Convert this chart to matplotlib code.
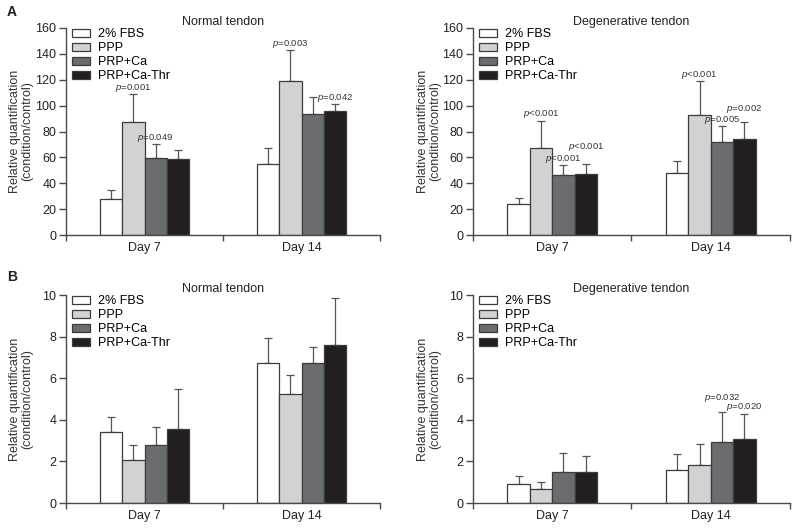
import matplotlib
matplotlib.use("Agg")
import matplotlib.pyplot as plt
import numpy as np

plt.rcParams['font.family'] = ['Liberation Sans', 'DejaVu Sans']
plt.rcParams['mathtext.fontset'] = 'custom'
plt.rcParams['mathtext.it'] = 'Liberation Sans:italic'
plt.rcParams['mathtext.rm'] = 'Liberation Sans'

days = ["Day 7", "Day 14"]
groups = ["2% FBS", "PPP", "PRP+Ca", "PRP+Ca-Thr"]
colors = ["#ffffff", "#d1d2d4", "#6b6c6f", "#231f20"]

# Panel A - Normal tendon (mean, upper error) per group [Day 7, Day 14]
a_normal_mean = [[27.6, 54.7], [87.7, 119.0], [59.4, 93.4], [58.8, 95.5]]
a_normal_err = [[7.2, 12.4], [21.2, 24.0], [10.8, 13.6], [6.7, 5.7]]
# Panel A - Degenerative tendon
a_degen_mean = [[24.0, 47.7], [67.6, 92.6], [46.5, 71.7], [47.0, 74.3]]
a_degen_err = [[4.4, 9.3], [20.9, 26.4], [7.4, 12.2], [7.5, 12.7]]
# Panel B - Normal tendon
b_normal_mean = [[3.42, 6.71], [2.09, 5.22], [2.81, 6.71], [3.55, 7.58]]
b_normal_err = [[0.72, 1.20], [0.72, 0.93], [0.85, 0.80], [1.92, 2.26]]
# Panel B - Degenerative tendon
b_degen_mean = [[0.89, 1.61], [0.69, 1.82], [1.48, 2.95], [1.48, 3.06]]
b_degen_err = [[0.41, 0.76], [0.34, 1.01], [0.90, 1.43], [0.79, 1.24]]

# annotations: (group index, day index, text, extra raise in px)
a_normal_notes = [(1, 0, "=0.001", 0), (2, 0, "=0.049", 0), (1, 1, "=0.003", 0), (3, 1, "=0.042", 0)]
a_degen_notes = [(1, 0, "<0.001", 0), (2, 0, "<0.001", 0), (3, 0, "<0.001", 11),
                 (1, 1, "<0.001", 0), (2, 1, "=0.005", 0), (3, 1, "=0.002", 7)]
b_normal_notes = []
b_degen_notes = [(2, 1, "=0.032", 8), (3, 1, "=0.020", 0)]

W, H = 797, 528
fig = plt.figure(figsize=(W / 100, H / 100), dpi=100)

def px_axes(left, top, right, bottom):
    return fig.add_axes([left / W, 1 - bottom / H, (right - left) / W, (bottom - top) / H])

bw = 0.1417
edge = "#3c3c3c"
axcol = "#4a4a4a"

def draw(ax, means, errs, notes, title, ymax, ystep, label_x):
    x = np.arange(len(days))
    for i, g in enumerate(groups):
        xs = x + (i - 1.5) * bw
        ax.bar(xs, means[i], width=bw, color=colors[i], edgecolor=edge, linewidth=0.9,
               label=g, zorder=2)
        ax.errorbar(xs, means[i], yerr=[np.zeros(len(days)), errs[i]], fmt='none',
                    ecolor="#555555", elinewidth=0.9, capsize=2.6, capthick=0.9, zorder=1)
    for gi, di, txt, extra in notes:
        xv = x[di] + (gi - 1.5) * bw
        yv = means[gi][di] + errs[gi][di]
        ax.annotate(r"$p$" + txt, (xv, yv), xytext=(0, 4.5 + extra * 0.72),
                    textcoords='offset points', ha='center', va='center',
                    fontsize=6.8, color="#333333")
    ax.set_xlim(-0.5, 1.5)
    ax.set_ylim(0, ymax)
    ax.set_yticks(np.arange(0, ymax + ystep / 2, ystep))
    ax.set_xticks([-0.5, 0.5, 1.5])
    ax.set_xticklabels([])
    ax.set_xticks(x, minor=True)
    ax.set_xticklabels(days, minor=True)
    ax.tick_params(axis='x', which='minor', length=0, pad=5, labelsize=9, colors="#222222")
    ax.tick_params(axis='x', which='major', length=4, width=1, color=axcol)
    ax.tick_params(axis='y', length=5, width=1, color=axcol, labelsize=9, labelcolor="#222222", pad=2)
    for s in ['top', 'right']:
        ax.spines[s].set_visible(False)
    for s in ['left', 'bottom']:
        ax.spines[s].set_color(axcol)
        ax.spines[s].set_linewidth(1)
    ax.set_title(title, fontsize=9, pad=2.5, color="#222222")
    ax.set_ylabel("Relative quantification\n(condition/control)", fontsize=9,
                  color="#333333", linespacing=1.05)
    bbox = ax.get_position()
    ax.yaxis.set_label_coords(label_x, 0.5)
    ax.legend(loc='upper left', bbox_to_anchor=(0.018, 1.0), frameon=False, fontsize=9,
              handlelength=1.44, handleheight=0.6, handletextpad=0.7, labelspacing=0.16,
              borderpad=0, borderaxespad=0)

ax1 = px_axes(66, 28, 380, 235)
ax2 = px_axes(473, 28, 790, 235)
ax3 = px_axes(66, 295, 380, 503)
ax4 = px_axes(473, 295, 790, 503)

draw(ax1, a_normal_mean, a_normal_err, a_normal_notes, "Normal tendon", 160, 20, (33 - 66) / 314)
draw(ax2, a_degen_mean, a_degen_err, a_degen_notes, "Degenerative tendon", 160, 20, (441 - 473) / 317)
draw(ax3, b_normal_mean, b_normal_err, b_normal_notes, "Normal tendon", 10, 2, (33 - 66) / 314)
draw(ax4, b_degen_mean, b_degen_err, b_degen_notes, "Degenerative tendon", 10, 2, (441 - 473) / 317)

fig.text(7 / W, 1 - 12 / H, "A", fontsize=10, fontweight='bold', va='center', ha='left', color="#222222")
fig.text(7 / W, 1 - 277 / H, "B", fontsize=10, fontweight='bold', va='center', ha='left', color="#222222")

fig.savefig("out.png", dpi=100)
